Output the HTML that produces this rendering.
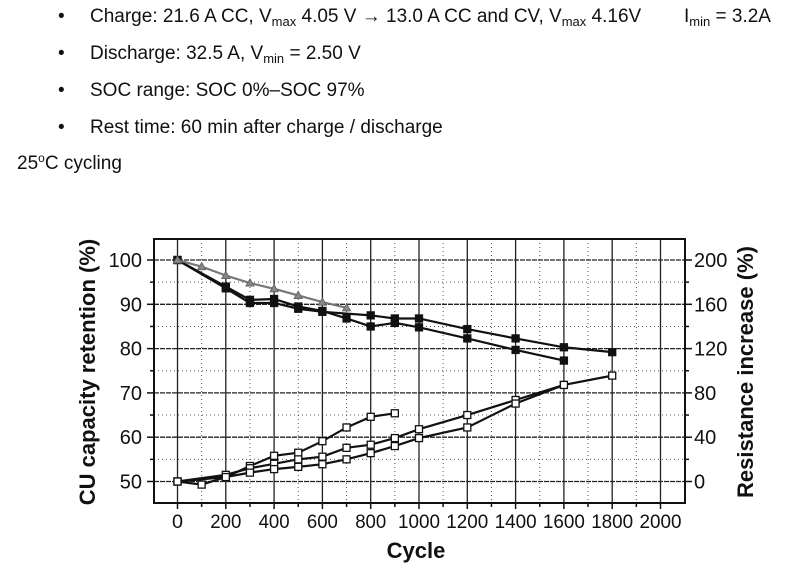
<!DOCTYPE html>
<html><head><meta charset="utf-8"><style>
html,body{margin:0;padding:0;background:#fff;width:800px;height:585px;overflow:hidden}
svg{display:block}
text{font-family:"Liberation Sans",Arial,sans-serif;fill:#111}
</style></head><body>
<svg id="s" width="800" height="585" viewBox="0 0 800 585" xmlns="http://www.w3.org/2000/svg">
<g font-size="19">
<text x="58" y="22">•</text><text x="90" y="22">Charge: 21.6 A CC, V<tspan font-size="13" dy="4">max</tspan><tspan dy="-4"> 4.05 V → 13.0 A CC and CV, V</tspan><tspan font-size="13" dy="4">max</tspan><tspan dy="-4"> 4.16V</tspan></text>
<text x="684" y="22">I<tspan font-size="13" dy="4">min</tspan><tspan dy="-4"> = 3.2A</tspan></text>
<text x="58" y="59">•</text><text x="90" y="59">Discharge: 32.5 A, V<tspan font-size="13" dy="4">min</tspan><tspan dy="-4"> = 2.50 V</tspan></text>
<text x="58" y="96">•</text><text x="90" y="96">SOC range: SOC 0%–SOC 97%</text>
<text x="58" y="133">•</text><text x="90" y="133">Rest time: 60 min after charge / discharge</text>
<text x="17" y="169">25<tspan font-size="12" dy="-7">o</tspan><tspan dy="7">C cycling</tspan></text>
</g>
<g id="plot"></g>
</svg>
<script>
var g=document.getElementById('plot'),h='';
function X(c){return 177.5+c*0.2415}
function Y(v){return 260+(100-v)*4.43}
var L=154,R=685,T=239,B=503;
for(var c=100;c<=2000;c+=200)h+='<line x1="'+X(c)+'" y1="'+T+'" x2="'+X(c)+'" y2="'+B+'" stroke="#555" stroke-width="1" stroke-dasharray="1,3"/>';
for(var v=55;v<=95;v+=10)h+='<line x1="'+L+'" y1="'+Y(v)+'" x2="'+R+'" y2="'+Y(v)+'" stroke="#555" stroke-width="1" stroke-dasharray="1,3"/>';
for(var c=0;c<=2000;c+=200)h+='<line x1="'+X(c)+'" y1="'+T+'" x2="'+X(c)+'" y2="'+B+'" stroke="#222" stroke-width="1.3"/>';
for(var v=50;v<=100;v+=10)h+='<line x1="'+L+'" y1="'+Y(v)+'" x2="'+R+'" y2="'+Y(v)+'" stroke="#222" stroke-width="1.3" stroke-dasharray="5,1"/>';
h+='<rect x="'+L+'" y="'+T+'" width="'+(R-L)+'" height="'+(B-T)+'" fill="none" stroke="#111" stroke-width="2"/>';
for(var c=0;c<=2000;c+=100){var l=c%200==0?6:4;h+='<line x1="'+X(c)+'" y1="'+B+'" x2="'+X(c)+'" y2="'+(B+l)+'" stroke="#111" stroke-width="1.5"/>';}
for(var v=50;v<=100;v+=5){var l=v%10==0?7:4;h+='<line x1="'+(L-l)+'" y1="'+Y(v)+'" x2="'+L+'" y2="'+Y(v)+'" stroke="#111" stroke-width="1.5"/><line x1="'+R+'" y1="'+Y(v)+'" x2="'+(R+l)+'" y2="'+Y(v)+'" stroke="#111" stroke-width="1.5"/>';}
for(var c=0;c<=2000;c+=200)h+='<text x="'+X(c)+'" y="528" font-size="19" text-anchor="middle" textLength="'+(c>=1000?42:c>0?31:11)+'" lengthAdjust="spacingAndGlyphs">'+c+'</text>';
for(var v=50;v<=100;v+=10)h+='<text x="142" y="'+(Y(v)+7)+'" font-size="20" text-anchor="end">'+v+'</text>';
for(var r=0;r<=200;r+=40)h+='<text x="694" y="'+(Y(50+r/4)+7)+'" font-size="20">'+r+'</text>';
h+='<text x="416" y="558" font-size="22" font-weight="bold" text-anchor="middle">Cycle</text>';
h+='<text transform="translate(95,372) rotate(-90)" font-size="22" font-weight="bold" text-anchor="middle">CU capacity retention (%)</text>';
h+='<text transform="translate(753,372) rotate(-90)" font-size="22" font-weight="bold" text-anchor="middle">Resistance increase (%)</text>';
function line(pts,col,mk,fill){var p=pts.map(function(q){return X(q[0])+','+Y(q[1])}).join(' ');
 h+='<polyline points="'+p+'" fill="none" stroke="'+col+'" stroke-width="2.2"/>';
 pts.forEach(function(q){var x=X(q[0]),y=Y(q[1]);
  if(mk=='t')h+='<polygon points="'+x+','+(y-4)+' '+(x+4)+','+(y+3)+' '+(x-4)+','+(y+3)+'" fill="#888" stroke="#666"/>';
  else h+='<rect x="'+(x-3.5)+'" y="'+(y-3.5)+'" width="7" height="7" fill="'+fill+'" stroke="#111" stroke-width="1.3"/>';});}
line([[0,50],[100,49.3],[200,51],[300,53.5],[400,55.8],[500,56.5],[600,59.1],[700,62.2],[800,64.6],[900,65.4]],'#111','s','#fff');
line([[0,50],[200,51.5],[300,53],[400,54],[500,55],[600,55.6],[700,57.6],[800,58.3],[900,59.8],[1000,61.8],[1200,65],[1400,68.4],[1600,71.8],[1800,73.9]],'#111','s','#fff');
line([[0,50],[200,51],[300,52],[400,52.8],[500,53.3],[600,53.9],[700,55],[800,56.4],[900,58],[1000,59.8],[1200,62.2],[1400,67.6],[1600,71.8]],'#111','s','#fff');
line([[0,100],[200,94],[300,91],[400,91.2],[500,89.5],[600,88.5],[700,86.8],[800,85],[900,85.8],[1000,84.8],[1200,82.3],[1400,79.7],[1600,77.3]],'#111','s','#111');
line([[0,100],[200,93.6],[300,90.3],[400,90.3],[500,89],[600,88.3],[800,87.5],[900,86.8],[1000,86.8],[1200,84.4],[1400,82.3],[1600,80.3],[1800,79.2]],'#111','s','#111');
line([[0,100],[100,98.5],[200,96.5],[300,94.8],[400,93.5],[500,92],[600,90.5],[700,89.2]],'#777','t');
g.innerHTML=h;
</script>
</body></html>
